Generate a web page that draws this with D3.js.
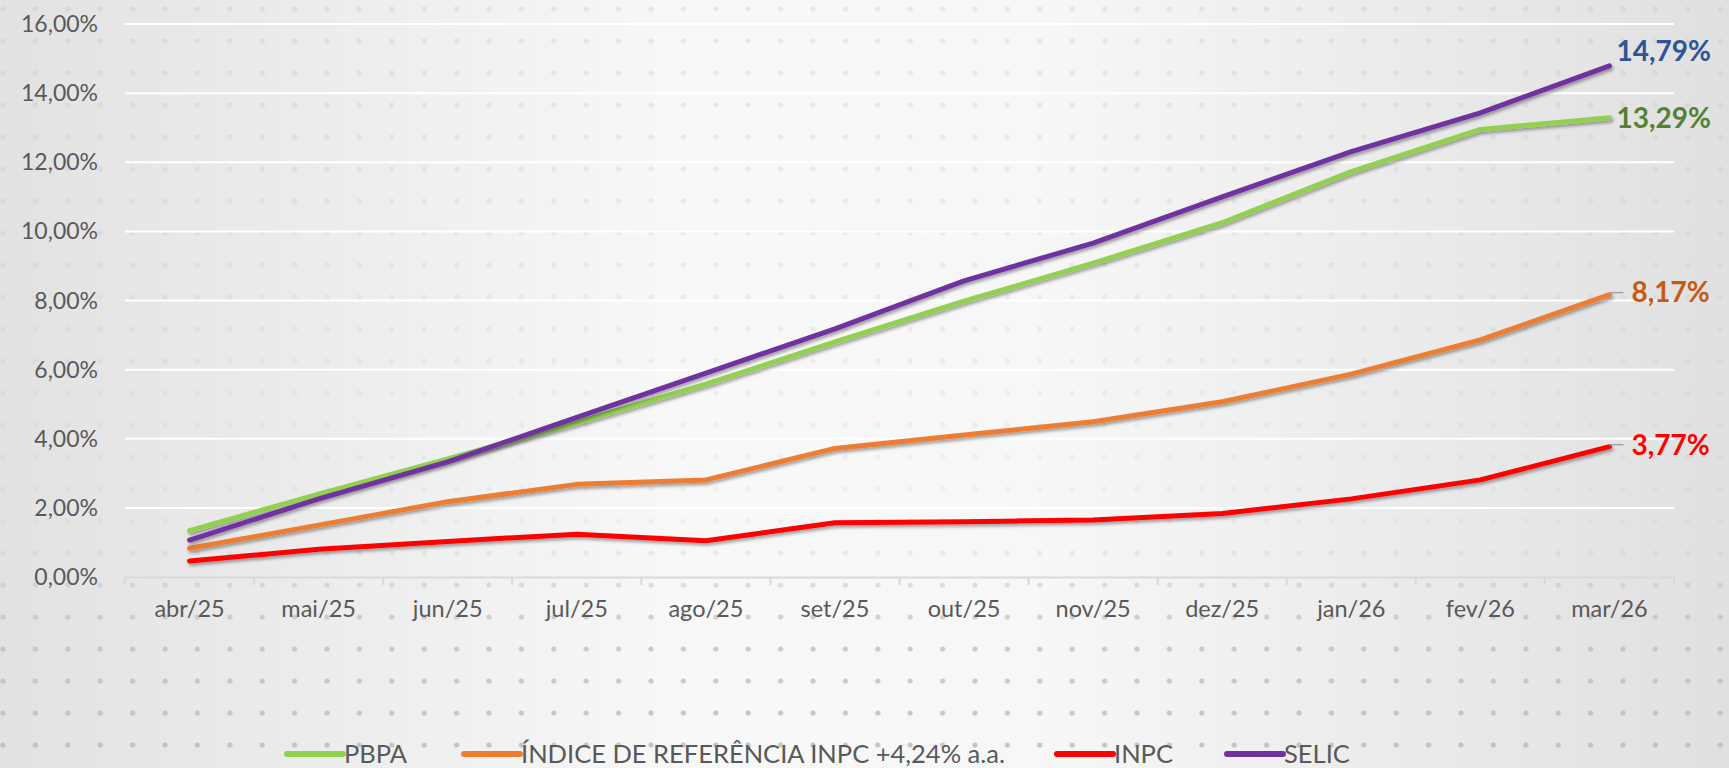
<!DOCTYPE html>
<html>
<head>
<meta charset="utf-8">
<script src="https://cdn.jsdelivr.net/npm/d3@7"></script>
<style>
  body { margin: 0; overflow: hidden; }
  svg { display: block; }
  text { font-family: Lato, "Open Sans", sans-serif; }
</style>
</head>
<body>
<script>
const months = ['abr/25', 'mai/25', 'jun/25', 'jul/25', 'ago/25', 'set/25', 'out/25', 'nov/25', 'dez/25', 'jan/26', 'fev/26', 'mar/26']
const pbpa  = [1.34, 2.40, 3.42, 4.47, 5.58, 6.80, 7.98, 9.08, 10.25, 11.73, 12.95, 13.29]
const indice = [0.83, 1.50, 2.18, 2.68, 2.81, 3.72, 4.11, 4.49, 5.07, 5.87, 6.86, 8.17]
const inpc  = [0.46, 0.80, 1.03, 1.24, 1.05, 1.57, 1.60, 1.65, 1.84, 2.26, 2.81, 3.77]
const selic = [1.07, 2.26, 3.33, 4.62, 5.90, 7.18, 8.57, 9.66, 11.00, 12.31, 13.43, 14.79]
const yTicks = [0, 2, 4, 6, 8, 10, 12, 14, 16]

const series = [
    { name: 'PBPA', values: pbpa, color: '#92d050', label: '#548235' },
    { name: 'ÍNDICE DE REFERÊNCIA INPC +4,24% a.a.', values: indice, color: '#ed7d31', label: '#c55a11' },
    { name: 'INPC', values: inpc, color: '#ff0000', label: '#ff0000' },
    { name: 'SELIC', values: selic, color: '#7030a0', label: '#2f5597' }
]
// draw order: the last drawn ends on top
const drawOrder = [1, 2, 0, 3]

const w = 1729
const h = 768
const fmt = v => v.toFixed(2).replace('.', ',') + '%'

const svg = d3.select('body')
    .append('svg')
    .attr('width', w)
    .attr('height', h)

const defs = svg.append('defs')

const bg = defs.append('linearGradient').attr('id', 'bg')
bg.append('stop').attr('offset', '0%').attr('stop-color', '#e2e2e2')
bg.append('stop').attr('offset', '40%').attr('stop-color', '#f8f8f8')
bg.append('stop').attr('offset', '60%').attr('stop-color', '#f7f7f7')
bg.append('stop').attr('offset', '100%').attr('stop-color', '#e0e0e0')

const dots = defs.append('pattern')
    .attr('id', 'dots')
    .attr('patternUnits', 'userSpaceOnUse')
    .attr('width', 32.4)
    .attr('height', 32)
    .attr('x', 3)
    .attr('y', 9)
dots.append('circle').attr('cx', 0).attr('cy', 0).attr('r', 2.6).attr('fill', '#bdbdbd')
dots.append('circle').attr('cx', 32.4).attr('cy', 0).attr('r', 2.6).attr('fill', '#bdbdbd')
dots.append('circle').attr('cx', 0).attr('cy', 32).attr('r', 2.6).attr('fill', '#bdbdbd')
dots.append('circle').attr('cx', 32.4).attr('cy', 32).attr('r', 2.6).attr('fill', '#bdbdbd')

const fade = defs.append('linearGradient').attr('id', 'fade').attr('x1', 0).attr('y1', 0).attr('x2', 0).attr('y2', 1)
fade.append('stop').attr('offset', '0%').attr('stop-color', '#fff').attr('stop-opacity', 0.3)
fade.append('stop').attr('offset', '70%').attr('stop-color', '#fff').attr('stop-opacity', 0.15)
fade.append('stop').attr('offset', '82%').attr('stop-color', '#fff').attr('stop-opacity', 0.75)
fade.append('stop').attr('offset', '100%').attr('stop-color', '#fff').attr('stop-opacity', 0.9)
defs.append('mask').attr('id', 'dotmask')
    .append('rect').attr('width', w).attr('height', h).attr('fill', 'url(#fade)')

defs.append('filter')
    .attr('id', 'shadow')
    .attr('x', '-5%').attr('y', '-20%').attr('width', '110%').attr('height', '140%')
    .append('feDropShadow')
    .attr('dx', 1.5).attr('dy', 2.5).attr('stdDeviation', 1.6)
    .attr('flood-color', '#000').attr('flood-opacity', 0.35)

svg.append('rect').attr('width', w).attr('height', h).attr('fill', 'url(#bg)')
svg.append('rect').attr('width', w).attr('height', h).attr('fill', 'url(#dots)').attr('mask', 'url(#dotmask)')

const x = d3.scaleBand()
    .domain(months)
    .range([125, 1674])

const y = d3.scaleLinear()
    .domain([0, 16])
    .range([577, 24])

const xc = m => x(m) + x.bandwidth() / 2

// gridlines
svg.append('g')
    .selectAll('line')
    .data(yTicks.filter(d => d > 0))
    .enter()
    .append('line')
    .attr('x1', 125)
    .attr('x2', 1674)
    .attr('y1', d => y(d))
    .attr('y2', d => y(d))
    .attr('stroke', '#ffffff')
    .attr('stroke-width', 2)

// y labels
svg.append('g')
    .selectAll('text')
    .data(yTicks)
    .enter()
    .append('text')
    .attr('x', 98)
    .attr('y', d => y(d))
    .attr('dy', '0.35em')
    .attr('text-anchor', 'end')
    .attr('fill', '#595959')
    .attr('font-size', 23)
    .text(d => fmt(d))

// x axis
const xAxis = svg.append('g')
    .attr('transform', `translate(0, ${y(0)})`)
    .call(d3.axisBottom(x).tickSize(0).tickSizeOuter(0).tickPadding(23))
xAxis.select('.domain').attr('stroke', '#d9d9d9').attr('stroke-width', 2)
xAxis.selectAll('text')
    .attr('fill', '#595959')
    .attr('font-size', 23.5)
    .style('font-family', 'Lato, sans-serif')

svg.append('g')
    .selectAll('line')
    .data(months.map(m => x(m)).concat([x.range()[1]]))
    .enter()
    .append('line')
    .attr('x1', d => d)
    .attr('x2', d => d)
    .attr('y1', y(0))
    .attr('y2', y(0) + 8)
    .attr('stroke', '#d9d9d9')
    .attr('stroke-width', 2)

// lines
const line = d3.line()
    .x((d, i) => xc(months[i]))
    .y(d => y(d))

svg.append('g')
    .selectAll('path')
    .data(drawOrder.map(i => series[i]))
    .enter()
    .append('path')
    .attr('d', d => line(d.values))
    .attr('fill', 'none')
    .attr('stroke', d => d.color)
    .attr('stroke-width', 5)
    .attr('stroke-linejoin', 'round')
    .attr('stroke-linecap', 'round')
    .attr('filter', 'url(#shadow)')

// end labels
const last = months.length - 1
const lx = xc(months[last])
const labelPos = [
    { s: 0, dx: 7, dy: 1, leader: false },
    { s: 1, dx: 22, dy: -2, leader: true },
    { s: 2, dx: 22, dy: -1, leader: true },
    { s: 3, dx: 7, dy: -15, leader: false }
]

labelPos.filter(d => d.leader).forEach(d => {
    const v = series[d.s].values[last]
    svg.append('line')
        .attr('x1', lx)
        .attr('x2', lx + 14)
        .attr('y1', y(v) - 2)
        .attr('y2', y(v) - 2)
        .attr('stroke', '#a6a6a6')
        .attr('stroke-width', 1.5)
})

svg.append('g')
    .selectAll('text')
    .data(labelPos)
    .enter()
    .append('text')
    .attr('x', d => lx + d.dx)
    .attr('y', d => y(series[d.s].values[last]) + d.dy)
    .attr('dy', '0.35em')
    .attr('fill', d => series[d.s].label)
    .attr('font-size', 28)
    .attr('font-weight', 'bold')
    .text(d => fmt(series[d.s].values[last]))

// legend
const legendX = [287, 464, 1057, 1227]
const legend = svg.append('g')
    .selectAll('g')
    .data(series)
    .enter()
    .append('g')
    .attr('transform', (d, i) => `translate(${legendX[i]}, 754)`)

legend.append('line')
    .attr('x1', 0)
    .attr('x2', 56)
    .attr('stroke', d => d.color)
    .attr('stroke-width', 6)
    .attr('stroke-linecap', 'round')

legend.append('text')
    .attr('x', 57)
    .attr('dy', '0.36em')
    .attr('fill', '#595959')
    .attr('font-size', 25.5)
    .text(d => d.name)
</script>
</body>
</html>
